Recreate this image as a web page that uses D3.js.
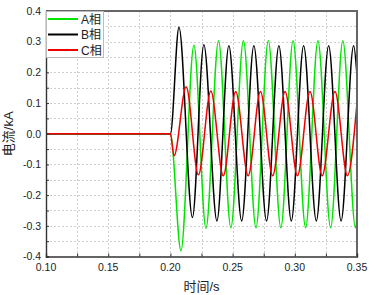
<!DOCTYPE html>
<html>
<head>
<meta charset="utf-8">
<script src="https://cdn.jsdelivr.net/npm/d3@7"></script>
<style>
    body {margin:0; background:#fff;}
    svg {display:block; font-family:"Liberation Sans", Arial, "Noto Sans CJK SC", sans-serif;}
</style>
</head>
<body>
<svg id="vis" width="370" height="295"></svg>
<script>
//peaks and troughs (time in s, current in kA)
var timeA = [0.10, 0.200, 0.2085, 0.2189, 0.2286, 0.2387, 0.2486, 0.2587, 0.2688, 0.2787, 0.2888, 0.2986, 0.3087, 0.3186, 0.3288, 0.3386, 0.3488, 0.350];
var currA = [0, 0, -0.381, 0.288, -0.308, 0.303, -0.306, 0.303, -0.306, 0.303, -0.306, 0.303, -0.306, 0.303, -0.306, 0.303, -0.306, -0.282];

var timeB = [0.10, 0.200, 0.2069, 0.2177, 0.2269, 0.2374, 0.2470, 0.2573, 0.2671, 0.2773, 0.2872, 0.2972, 0.3071, 0.3173, 0.3272, 0.3372, 0.3473, 0.350];
var currB = [0, 0, 0.347, -0.273, 0.290, -0.284, 0.287, -0.284, 0.287, -0.284, 0.287, -0.284, 0.287, -0.284, 0.287, -0.284, 0.287, 0.19];

var timeC = [0.10, 0.200, 0.2029, 0.2127, 0.2225, 0.2325, 0.2425, 0.2525, 0.2625, 0.2724, 0.2822, 0.2922, 0.3021, 0.3122, 0.3220, 0.3323, 0.3423, 0.350];
var currC = [0, 0, -0.072, 0.153, -0.134, 0.139, -0.137, 0.138, -0.137, 0.138, -0.137, 0.138, -0.137, 0.138, -0.137, 0.138, -0.137, 0.101];

var seriesNames = ['A相', 'B相', 'C相'];

var xTicks = [0.10, 0.15, 0.20, 0.25, 0.30, 0.35];
var xTickLabels = ['0.10', '0.15', '0.20', '0.25', '0.30', '0.35'];
var xMinor = [0.125, 0.175, 0.225, 0.275, 0.325];
var yTicks = [-0.4, -0.3, -0.2, -0.1, 0.0, 0.1, 0.2, 0.3, 0.4];
var yTickLabels = ['-0.4', '-0.3', '-0.2', '-0.1', '0.0', '0.1', '0.2', '0.3', '0.4'];
var yMinor = [-0.35, -0.25, -0.15, -0.05, 0.05, 0.15, 0.25, 0.35];

var colors = ['#00e400', '#000000', '#f00000'];

var svg = d3.select('#vis');

//plot box (window.top is taken, so use own names)
var plotLeft = 46, plotRight = 357, plotTop = 11, plotBottom = 256.5;

var x = d3.scaleLinear().domain([0.10, 0.35]).range([plotLeft, plotRight]);
var y = d3.scaleLinear().domain([-0.4, 0.4]).range([plotBottom, plotTop]);

//dotted grid at major + minor ticks
var grid = svg.append('g')
    .attr('stroke', '#cfcfcf')
    .attr('stroke-width', 1)
    .attr('stroke-dasharray', '2,2');

grid.selectAll('.gx')
    .data(xTicks.concat(xMinor).filter(function(d){ return d > 0.1 && d < 0.35; }))
    .enter()
    .append('line')
    .attr('x1', function(d){ return Math.round(x(d)) + 0.5; })
    .attr('x2', function(d){ return Math.round(x(d)) + 0.5; })
    .attr('y1', plotTop)
    .attr('y2', plotBottom);

grid.selectAll('.gy')
    .data(yTicks.concat(yMinor).filter(function(d){ return d > -0.4 && d < 0.4; }))
    .enter()
    .append('line')
    .attr('y1', function(d){ return Math.round(y(d)) + 0.5; })
    .attr('y2', function(d){ return Math.round(y(d)) + 0.5; })
    .attr('x1', plotLeft)
    .attr('x2', plotRight);

//clip lines to plot area
svg.append('clipPath')
    .attr('id', 'clip')
    .append('rect')
    .attr('x', plotLeft)
    .attr('y', plotTop)
    .attr('width', plotRight - plotLeft)
    .attr('height', plotBottom - plotTop);

var line = d3.line()
    .x(function(d){ return x(d[0]); })
    .y(function(d){ return y(d[1]); })
    .curve(d3.curveMonotoneX);

var allSeries = [d3.zip(timeA, currA), d3.zip(timeB, currB), d3.zip(timeC, currC)];

svg.append('g')
    .attr('clip-path', 'url(#clip)')
    .selectAll('path')
    .data(allSeries)
    .enter()
    .append('path')
    .attr('fill', 'none')
    .attr('stroke', function(d, i){ return colors[i]; })
    .attr('stroke-width', 1.5)
    .attr('d', line);

//frame: top and right in grey
svg.append('line')
    .attr('x1', plotLeft).attr('x2', plotRight + 1)
    .attr('y1', plotTop).attr('y2', plotTop)
    .attr('stroke', '#666').attr('stroke-width', 2);
svg.append('line')
    .attr('x1', plotRight).attr('x2', plotRight)
    .attr('y1', plotTop).attr('y2', plotBottom)
    .attr('stroke', '#666').attr('stroke-width', 2);

//axes with inward ticks
var xAxis = d3.axisBottom(x)
    .tickValues(xTicks.concat(xMinor))
    .tickSize(-3)
    .tickFormat('');
var yAxis = d3.axisLeft(y)
    .tickValues(yTicks.concat(yMinor))
    .tickSize(-3)
    .tickFormat('');

var gx = svg.append('g')
    .attr('transform', 'translate(0,' + plotBottom + ')')
    .call(xAxis);
var gy = svg.append('g')
    .attr('transform', 'translate(' + plotLeft + ',0)')
    .call(yAxis);

[gx, gy].forEach(function(g){
    g.select('.domain').attr('stroke', '#333').attr('stroke-width', 1.4);
    g.selectAll('.tick line').attr('stroke', '#333').attr('stroke-width', 1);
});

svg.selectAll('.xlab')
    .data(xTicks)
    .enter()
    .append('text')
    .attr('x', function(d){ return x(d); })
    .attr('y', plotBottom + 14.5)
    .attr('text-anchor', 'middle')
    .attr('font-size', '10.5px')
    .attr('fill', '#222')
    .text(function(d, i){ return xTickLabels[i]; });

svg.selectAll('.ylab')
    .data(yTicks)
    .enter()
    .append('text')
    .attr('x', plotLeft - 5)
    .attr('y', function(d){ return y(d) + 3.8; })
    .attr('text-anchor', 'end')
    .attr('font-size', '10.5px')
    .attr('fill', '#222')
    .text(function(d, i){ return yTickLabels[i]; });

//axis titles
svg.append('text')
    .attr('x', (plotLeft + plotRight) / 2)
    .attr('y', 291)
    .attr('text-anchor', 'middle')
    .attr('font-size', '13px')
    .attr('fill', '#222')
    .text('时间/s');

svg.append('text')
    .attr('transform', 'translate(13,' + ((plotTop + plotBottom) / 2) + ') rotate(-90)')
    .attr('text-anchor', 'middle')
    .attr('font-size', '13px')
    .attr('fill', '#222')
    .text('电流/kA');

//legend
var legend = svg.append('g')
    .attr('transform', 'translate(' + plotLeft + ',' + plotTop + ')');

legend.append('rect')
    .attr('x', 0.5)
    .attr('y', 0.5)
    .attr('width', 57)
    .attr('height', 46)
    .attr('fill', '#fff')
    .attr('stroke', '#bbb')
    .attr('stroke-width', 1);

var items = legend.selectAll('.legend-item')
    .data(seriesNames)
    .enter();

items.append('line')
    .attr('x1', 2)
    .attr('x2', 32)
    .attr('y1', function(d, i){ return 8 + i * 15.5; })
    .attr('y2', function(d, i){ return 8 + i * 15.5; })
    .attr('stroke', function(d, i){ return colors[i]; })
    .attr('stroke-width', 2);

items.append('text')
    .attr('x', 35)
    .attr('y', function(d, i){ return 12.5 + i * 15.5; })
    .attr('font-size', '12px')
    .attr('fill', '#222')
    .text(function(d){ return d; });
</script>
</body>
</html>
